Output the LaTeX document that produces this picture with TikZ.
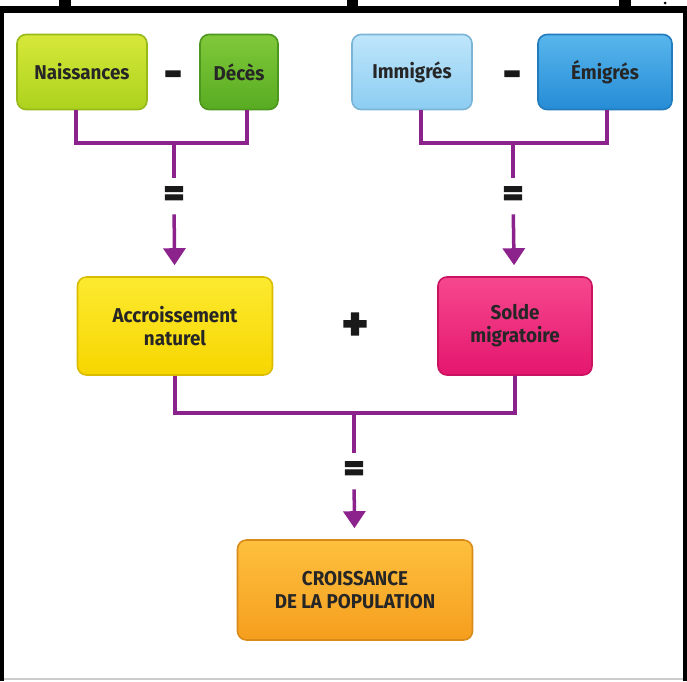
\documentclass[tikz,border=0pt]{standalone}
\usepackage{fontspec}
\setmainfont{Fira Sans}[FakeStretch=0.94]
\newfontfamily\signfont{Fira Sans}[FakeBold=3]
\usepackage{tikz}
\usetikzlibrary{positioning}
\usetikzlibrary{arrows.meta}

\definecolor{lien}{RGB}{140,35,140}
\definecolor{naisA}{RGB}{214,232,58}
\definecolor{naisB}{RGB}{172,210,30}
\definecolor{decesA}{RGB}{128,200,58}
\definecolor{decesB}{RGB}{88,172,34}
\definecolor{immigA}{RGB}{190,230,250}
\definecolor{immigB}{RGB}{140,205,242}
\definecolor{emigA}{RGB}{88,182,236}
\definecolor{emigB}{RGB}{38,140,214}
\definecolor{accrA}{RGB}{252,234,48}
\definecolor{accrB}{RGB}{247,214,0}
\definecolor{soldeA}{RGB}{246,72,142}
\definecolor{soldeB}{RGB}{228,22,110}
\definecolor{croisA}{RGB}{253,192,62}
\definecolor{croisB}{RGB}{246,158,30}

\begin{document}
\begin{tikzpicture}[x=1pt, y=-1pt, semithick,
  box/.style 2 args={rounded corners=9pt, top color=#1, bottom color=#2,
    draw=#2!88!black, line width=1.6pt, align=center, inner sep=0pt,
    text=black!85, font=\bfseries\fontsize{20}{23}\selectfont},
  link/.style={draw=lien, line width=3.5pt},
  tip/.style={-{Triangle[length=17pt,width=22pt]}, shorten >=11pt},
  sign/.style={text=black!90, inner sep=0pt, font=\signfont\bfseries\fontsize{40}{40}\selectfont,
    minimum height=36pt, text height=21pt, text depth=0pt}]
\useasboundingbox (0,0) rectangle (687,681);

% frame
\fill[black] (0,6) rectangle (687,13);
\fill[black] (0,6) rectangle (4,681);
\fill[black] (683,6) rectangle (687,681);
\fill[black] (59,0) rectangle (71,6);
\fill[black] (347,0) rectangle (358,6);
\fill[black] (619,0) rectangle (631,6);
\fill[black] (665,3) circle (1.5);
\fill[black!20] (4,678) rectangle (683,680);

% boxes
\node[box={naisA}{naisB}, minimum width=130pt, minimum height=75pt]  (nais)  at (82,72)  {Naissances};
\node[box={decesA}{decesB}, minimum width=78pt, minimum height=75pt]  (deces) at (239,72) {Décès};
\node[box={immigA}{immigB}, minimum width=120pt, minimum height=75pt] (immig) at (412,72) {Immigrés};
\node[box={emigA}{emigB}, minimum width=134pt, minimum height=75pt]  (emig)  at (605,72) {Émigrés};
\node[box={accrA}{accrB}, minimum width=195pt, minimum height=98pt]  (accr)  at (175,326) {Accroissement\\naturel};
\node[box={soldeA}{soldeB}, minimum width=154pt, minimum height=98pt] (solde) at (515,326) {Solde\\migratoire};
\node[box={croisA}{croisB}, minimum width=235pt, minimum height=100pt] (crois) at (355,590) {CROISSANCE\\DE LA POPULATION};

% signs
\node[sign, font=\signfont\bfseries\fontsize{44}{44}\selectfont] (moins1) at (173,77) {-};
\node[sign, font=\signfont\bfseries\fontsize{44}{44}\selectfont] (moins2) at (512,77) {-};
\node[sign, font=\signfont\bfseries\fontsize{50}{50}\selectfont] (plus) at (355,330) {+};
\node[sign] (egal1)  at (174,196) {=};
\node[sign] (egal2)  at (513,196) {=};
\node[sign] (egal3)  at (354,471) {=};

\coordinate (j1) at (174,143);
\coordinate (j2) at (513,143);
\coordinate (j3) at (354,413);

% connectors
\draw[link] ([xshift=-6pt]nais.south) |- (j1) -| ([xshift=8pt]deces.south);
\draw[link] ([xshift=9pt]immig.south) |- (j2) -| ([xshift=2pt]emig.south);
\draw[link] (accr.south) |- (j3) -| (solde.south);
\draw[link] (j1) -- (egal1);
\draw[link] (j2) -- (egal2);
\draw[link] (j3) -- (egal3);
\draw[link, tip] (egal1) -- (accr);
\draw[link, tip] (egal2) -- (solde);
\draw[link, tip] (egal3) -- (crois);
\end{tikzpicture}
\end{document}
